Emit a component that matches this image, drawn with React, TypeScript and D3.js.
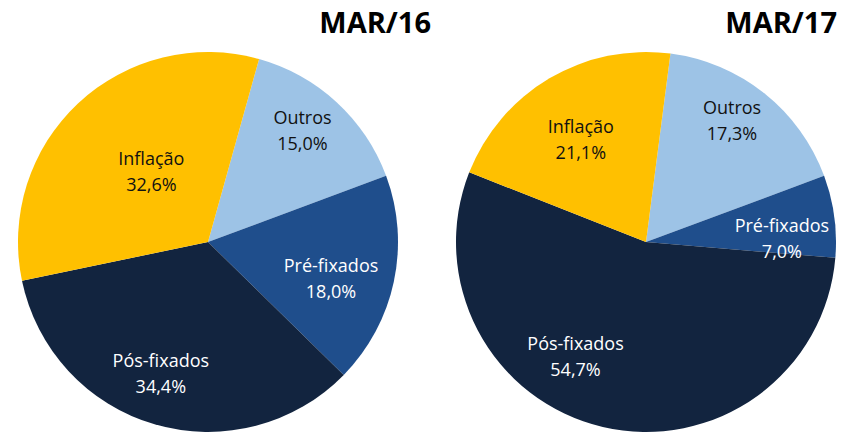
import React from "react";
import * as d3 from "d3";

// categories in clockwise order, starting from the top
const categories = ["Outros", "Pré-fixados", "Pós-fixados", "Inflação"];
const mar16Values = [15.0, 18.0, 34.4, 32.6];
const mar17Values = [17.3, 7.0, 54.7, 21.1];
const titles = ["MAR/16", "MAR/17"];

const colors: Record<string, string> = {
  Outros: "#9dc3e6",
  "Pré-fixados": "#1f4e8c",
  "Pós-fixados": "#12243f",
  Inflação: "#ffc000",
};
const textColors: Record<string, string> = {
  Outros: "#111",
  "Pré-fixados": "#fff",
  "Pós-fixados": "#fff",
  Inflação: "#111",
};

// label placement (angle in degrees clockwise from 12 o'clock, distance from centre)
const labels16 = [
  { a: 40, r: 147 },
  { a: 106, r: 128 },
  { a: 200, r: 138 },
  { a: 322, r: 92 },
];
const labels17 = [
  { a: 35, r: 150 },
  { a: 88, r: 136 },
  { a: 212, r: 133 },
  { a: 328, r: 123 },
];

const width = 844;
const height = 433;
const radius = 190;
const fmt = (v: number) => v.toFixed(1).replace(".", ",") + "%";
const rad = (deg: number) => (deg * Math.PI) / 180;

const Pie = ({ values, cx, cy, start, lbl, title, titleX }: any) => {
  const pie = d3
    .pie<number>()
    .sort(null)
    .value((d) => d)
    .startAngle(rad(start))
    .endAngle(rad(start) + 2 * Math.PI);
  const arc = d3.arc<d3.PieArcDatum<number>>().innerRadius(0).outerRadius(radius);
  const arcs = pie(values);
  return (
    <g>
      <text
        x={titleX}
        y={33}
        textAnchor="end"
        fontFamily="'Open Sans', sans-serif"
        fontWeight={700}
        fontSize={29}
        fill="#000"
      >
        {title}
      </text>
      <g transform={`translate(${cx},${cy})`}>
        {arcs.map((d, i) => (
          <path key={i} d={arc(d) || ""} fill={colors[categories[i]]} />
        ))}
        {arcs.map((d, i) => {
          const x = Math.sin(rad(lbl[i].a)) * lbl[i].r;
          const y = -Math.cos(rad(lbl[i].a)) * lbl[i].r;
          return (
            <text
              key={"t" + i}
              x={x}
              y={y}
              textAnchor="middle"
              fontFamily="'Open Sans', sans-serif"
              fontSize={18}
              fill={textColors[categories[i]]}
            >
              <tspan x={x} dy={-5}>
                {categories[i]}
              </tspan>
              <tspan x={x} dy={26}>
                {fmt(d.data)}
              </tspan>
            </text>
          );
        })}
      </g>
    </g>
  );
};

export default function App() {
  return (
    <svg
      width={width}
      height={height}
      style={{ position: "absolute", left: 0, top: 0, background: "#fff" }}
    >
      <Pie values={mar16Values} cx={208} cy={242} start={15.6} lbl={labels16} title={titles[0]} titleX={431} />
      <Pie values={mar17Values} cx={646} cy={242} start={7.4} lbl={labels17} title={titles[1]} titleX={837} />
    </svg>
  );
}
